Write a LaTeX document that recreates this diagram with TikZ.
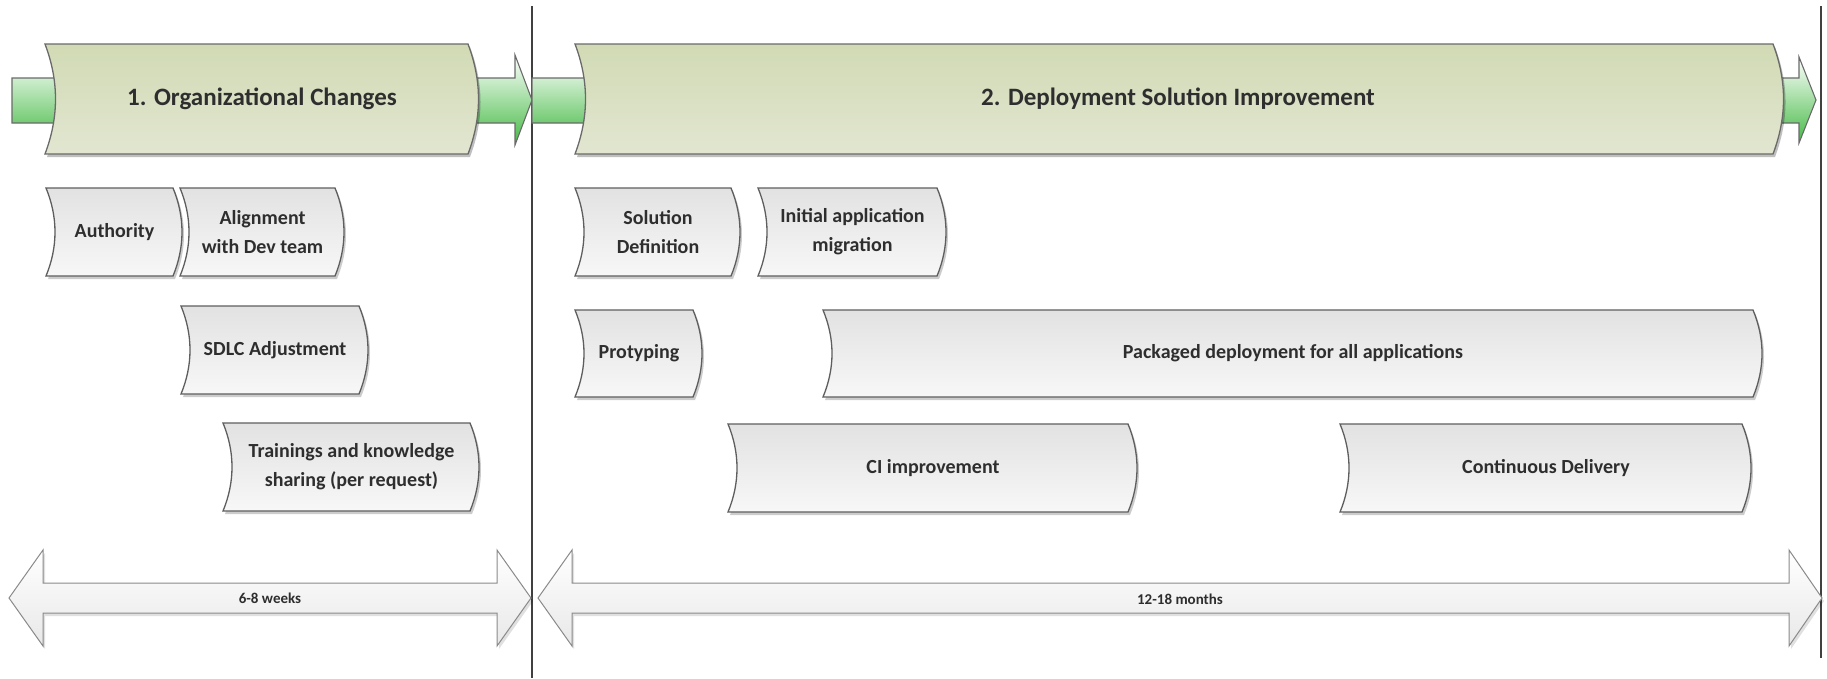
\documentclass[tikz,border=0pt]{standalone}
\usepackage{fontspec}
\setmainfont{Carlito}
\usetikzlibrary{shadows}
\definecolor{ribbontop}{HTML}{D1DAB4}
\definecolor{ribbonbottom}{HTML}{E2E6D1}
\definecolor{ribbonedge}{HTML}{6A6A6A}
\definecolor{arrowgreen}{HTML}{45BA45}
\definecolor{boxtop}{HTML}{E2E2E2}
\definecolor{boxedge}{HTML}{5E5E5E}
\definecolor{spanedge}{HTML}{8A8A8A}
\definecolor{labeltext}{HTML}{2E2E2E}
\begin{document}
\begin{tikzpicture}[x=1pt,y=-1pt,
        ribbon/.style={draw=ribbonedge, line width=1.3pt, top color=ribbontop, bottom color=ribbonbottom,
            drop shadow={shadow xshift=2pt, shadow yshift=-3pt, opacity=.25, fill=black}},
        phasearrow/.style={draw=ribbonedge, line width=1.1pt, top color=white, bottom color=arrowgreen},
        taskbox/.style={draw=boxedge, line width=1.3pt, top color=boxtop, bottom color=white!97!black,
            drop shadow={shadow xshift=2pt, shadow yshift=-3pt, opacity=.2, fill=black}},
        spanarrow/.style={draw=spanedge, line width=1pt, top color=white, bottom color=black!9,
            drop shadow={shadow xshift=2pt, shadow yshift=-3pt, opacity=.12, fill=black}},
        divider/.style={draw=black!75, line width=1.4pt},
        title/.style={text=labeltext, font=\bfseries\fontsize{25}{30}\selectfont},
        tasklabel/.style={text=labeltext, align=center, font=\bfseries\fontsize{20}{29}\selectfont},
        spanlabel/.style={text=labeltext, font=\bfseries\fontsize{15}{18}\selectfont}]
        \useasboundingbox (0,0) rectangle (1827,678);

        % phase dividers
        \draw[divider] (532,6) -- (532,678);
        \draw[divider] (1821,6) -- (1821,658);

        % green arrows behind the phase ribbons
        \draw[phasearrow] (12,78) -- (515,78) -- (515,55) -- (532,100) -- (515,145) -- (515,123) -- (12,123) -- cycle;
        \draw[phasearrow] (532,78) -- (1799,78) -- (1799,57) -- (1816,100) -- (1799,143) -- (1799,123) -- (532,123) -- cycle;

        % phase ribbons
        \foreach \xa/\xb in {45/468, 575/1773}
        {
            \draw[ribbon] (\xa,44) .. controls ({\xa+14},81) and ({\xa+14},117) .. (\xa,154)
                -- (\xb,154) .. controls ({\xb+14},117) and ({\xb+14},81) .. (\xb,44) -- cycle;
        }
        \node[title] (orgchanges) at (262,99) {1. Organizational Changes};
        \node[title] (deployment) at (1178,99) {2. Deployment Solution Improvement};

        % tasks
        \foreach \nm/\xa/\ya/\xb/\yb/\txt in {
                authority/46/188/173/276/Authority,
                alignment/180/188/335/276/Alignment\\with Dev team,
                sdlc/181/306/359/394/SDLC Adjustment,
                trainings/223/423/470/511/Trainings and knowledge\\sharing (per request),
                soldef/575/188/731/276/Solution\\Definition,
                appmigration/758/188/937/276/Initial application\\migration,
                protyping/575/310/693/397/Protyping,
                packaged/823/310/1753/397/Packaged deployment for all applications,
                ciimprove/728/424/1128/512/CI improvement,
                delivery/1340/424/1742/512/Continuous Delivery}
        {
            \draw[taskbox] (\xa,\ya) .. controls ({\xa+12},{\ya+29}) and ({\xa+12},{\yb-29}) .. (\xa,\yb)
                -- (\xb,\yb) .. controls ({\xb+12},{\yb-29}) and ({\xb+12},{\ya+29}) .. (\xb,\ya) -- cycle;
            \node[tasklabel] (\nm) at ({(\xa+\xb)/2+5},{(\ya+\yb)/2}) {\txt};
        }

        % durations
        \draw[spanarrow] (9,598) -- (43,550) -- (43,583) -- (497,583) -- (497,550) -- (531,598)
            -- (497,646) -- (497,613) -- (43,613) -- (43,646) -- cycle;
        \draw[spanarrow] (538,598) -- (572,550) -- (572,583) -- (1789,583) -- (1789,550) -- (1822,598)
            -- (1789,646) -- (1789,613) -- (572,613) -- (572,646) -- cycle;
        \node[spanlabel] (weeks) at (270,598) {6-8 weeks};
        \node[spanlabel] (months) at (1180,599) {12-18 months};
    \end{tikzpicture}
\end{document}
